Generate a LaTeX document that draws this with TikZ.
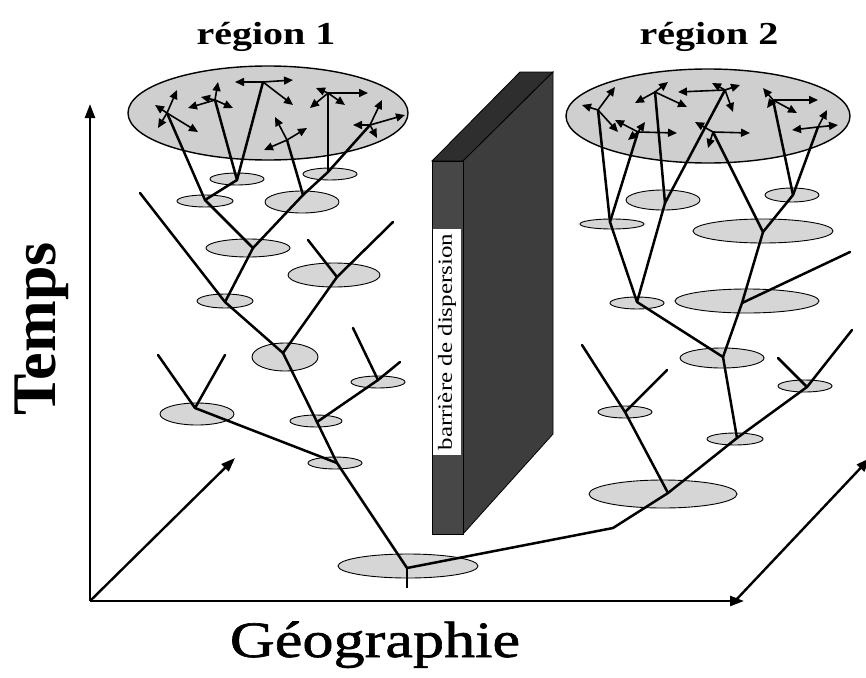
\documentclass[tikz,border=0pt]{standalone}
\usepackage{fontspec}
\setmainfont{Liberation Serif}
\newfontfamily\wideserif[FakeStretch=1.25]{Liberation Serif}
\newfontfamily\geoserif[FakeStretch=1.22,FakeBold=1.2]{Liberation Serif}
\usepackage{tkz-euclide}
\usetikzlibrary{arrows.meta}

\tikzset{
  popell/.style={draw=black, line width=0.9pt, fill=black!16},
  bigpop/.style={draw=black, line width=1.4pt, fill=black!19},
  lineage/.style={line width=2.5pt, line cap=round},
  disp/.style={line width=1.6pt, -{Triangle[length=9pt,width=8pt]}},
  axisarrow/.style={line width=2.4pt, -{Triangle[length=14pt,width=10pt]}},
}

\begin{document}
\begin{tikzpicture}[x=1pt,y=-1pt]
    \useasboundingbox (0,0) rectangle (866,677);
    \tkzSetUpLine[line width=2.5pt,color=black]
    % axes
    \tkzDefPoints{90/601/O, 90/104/T, 744/601/G, 235/458/D, 735/601/E, 870/458/F}
    \draw[axisarrow] (O) -- (T);
    \draw[axisarrow] (O) -- (G);
    \draw[axisarrow] (O) -- (D);
    \draw[axisarrow] (E) -- (F);

    % barrier
    \filldraw[fill=black!82, line width=0.8pt] (432,161) -- (520,72) -- (553,72) -- (463,161) -- cycle;
    \filldraw[fill=black!76, line width=0.8pt] (463,161) -- (553,72) -- (553,434) -- (463,534) -- cycle;
    \filldraw[fill=black!72, line width=0.8pt] (432,161) rectangle (463,534);
    \node[rotate=90, fill=white, inner xsep=5pt, inner ysep=4.5pt,
          font=\wideserif\fontsize{20}{20}\selectfont] (bar) at (447,342) {barrière de dispersion};

    % populations
    \draw[bigpop] (268,113) ellipse [x radius=140pt, y radius=47pt];
    \draw[bigpop] (708,116) ellipse [x radius=142pt, y radius=47pt];
    \foreach \x/\y/\rx/\ry in {237/179/27/6, 205/201/28/6, 330/174/27/6, 302/202/37/11,
        248/248/42/9, 225/301/28/7, 334/275/46/12, 285/357/33/14, 316/421/26/6,
        378/382/27/6, 335/463/27/6, 197/414/37/11, 408/566/70/12,
        612/224/32/5, 663/200/37/10, 792/195/27/7, 763/231/70/12, 637/303/27/6,
        747/301/72/12, 722/358/42/10, 735/439/28/6, 805/386/27/6, 625/412/27/6,
        663/494/74/14}
        \draw[popell] (\x,\y) ellipse [x radius=\rx pt, y radius=\ry pt];

    % region 1
    \tkzDefPoints{167/113/A1, 215/100/A2, 263/82/A3, 328/93/A4, 287/140/A5, 370/125/A6,
        237/180/N1, 205/200/N2, 328/172/N3, 303/195/N4, 253/248/N5, 225/302/N6,
        337/277/N7, 283/353/N8, 317/422/N9, 378/380/N10, 337/463/N11, 195/408/N12,
        407/568/R, 407/588/Rs, 140/193/S1, 393/222/S2, 308/240/S3, 353/328/S4,
        400/362/S5, 158/355/S6, 225/355/S7}
    \tkzDrawSegments[lineage](A1,N2 A2,N1 A3,N1 N1,N2 A4,N3 A6,N3 N3,N4 A5,N4
        N2,N5 N4,N5 S1,N6 N5,N6 N6,N8 N7,N8 S2,N7 S3,N7 N8,N9 N9,N11 N11,R
        N10,N9 S4,N10 S5,N10 N12,N11 S6,N12 S7,N12)
    \draw[line width=1.3pt] (R) -- (Rs);

    % region 2
    \tkzDefPoints{598/110/B1, 655/92/B2, 725/90/B3, 638/132/B4, 713/132/B5, 773/100/B6,
        818/127/B7, 610/222/M1, 665/203/M2, 793/195/M3, 763/232/M4, 742/303/M5,
        637/302/M6, 723/357/M7, 737/438/M8, 668/493/M9, 807/387/M10, 625/412/Q,
        613/528/K, 850/252/S8, 778/358/S9, 852/330/S10, 582/345/S11, 667/370/S12}
    \tkzDrawSegments[lineage](B1,M1 B4,M1 B2,M2 B3,M2 B6,M3 B7,M3 B5,M4 M3,M4
        M1,M6 M2,M6 M4,M5 S8,M5 M6,M7 M5,M7 M7,M8 R,K K,M9 M9,M8 M8,M10
        M10,S9 M10,S10 S11,Q Q,M9 Q,S12)

    % dispersal inside the regions
    \foreach \p/\dx/\dy in {A1/10/-23, A1/-12/-8, A1/-9/15, A1/31/19,
        A2/3/-18, A2/-27/8, A2/18/8, A2/-14/-3,
        A3/-28/0, A3/30/-2, A3/30/23,
        A4/-12/-5, A4/40/0, A4/-18/15, A4/17/12,
        A5/-12/-23, A5/20/-12, A5/-23/10,
        A6/12/-25, A6/35/-10, A6/-17/0, A6/7/13,
        B1/-16/-5, B1/17/-23, B1/20/22,
        B2/13/-10, B2/-20/11, B2/32/15,
        B3/-47/2, B3/-13/-7, B3/15/-5, B3/8/22,
        B4/-23/-12, B4/39/1, B4/-10/8, B4/7/-10,
        B5/37/1, B5/-18/-10, B5/-5/16,
        B6/-10/-12, B6/45/0, B6/-6/8, B6/24/13,
        B7/9/-17, B7/20/-2, B7/-26/3}
        \draw[disp] (\p) -- ++(\dx,\dy);

    % labels
    \node[font=\wideserif\bfseries\fontsize{32}{32}\selectfont, anchor=base] (reg1) at (266,45) {région 1};
    \node[font=\wideserif\bfseries\fontsize{32}{32}\selectfont, anchor=base] (reg2) at (709,45) {région 2};
    \node[font=\bfseries\fontsize{62}{62}\selectfont, rotate=90, anchor=base] (temps) at (55,329) {Temps};
    \node[font=\geoserif\fontsize{51}{51}\selectfont, anchor=base] (geo) at (375,657) {Géographie};
\end{tikzpicture}
\end{document}
